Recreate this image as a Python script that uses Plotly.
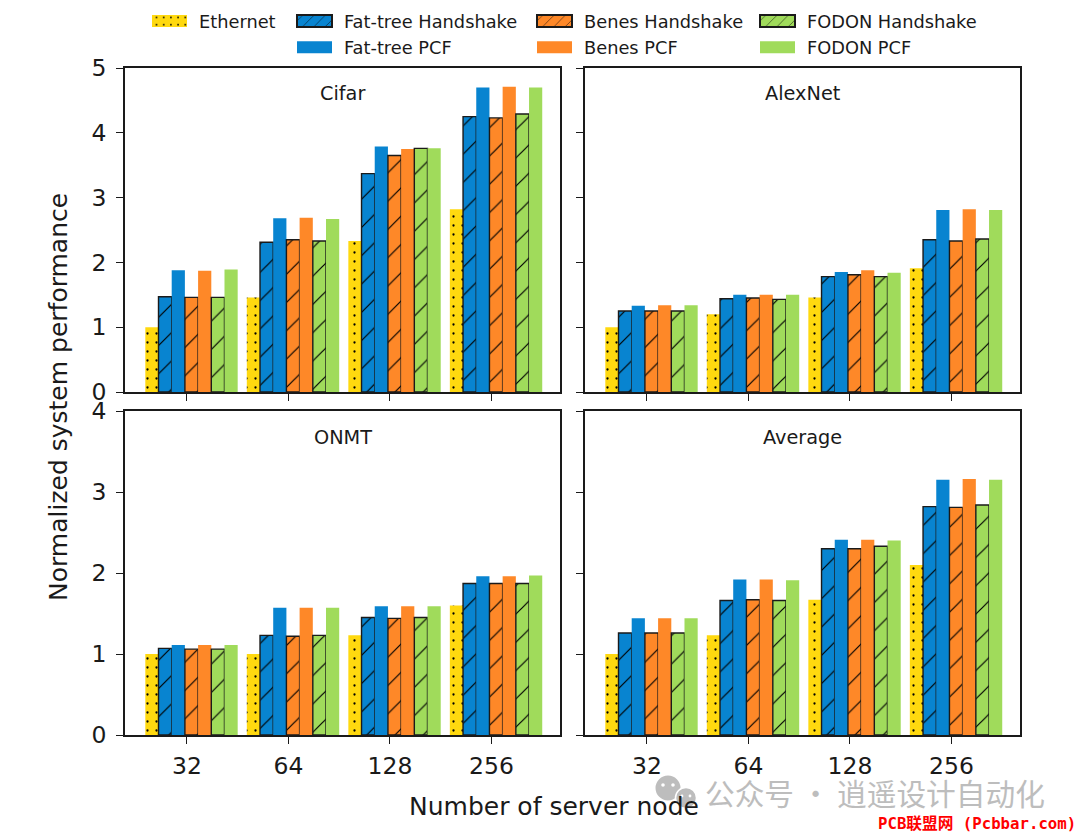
import plotly.graph_objects as go

W, H = 1080, 837
groups = [0, 1, 2, 3]
group_labels = ["32", "64", "128", "256"]
series_names = ["Ethernet", "Fat-tree Handshake", "Fat-tree PCF", "Benes Handshake", "Benes PCF", "FODON Handshake", "FODON PCF"]
series_colors = ["#FFD90F", "#0884D0", "#0884D0", "#FE8828", "#FE8828", "#A0DB5B", "#A0DB5B"]
panel_names = ["Cifar", "AlexNet", "ONMT", "Average"]

cifar = [
    [1.00, 1.46, 2.33, 2.82], [1.47, 2.31, 3.37, 4.25], [1.88, 2.68, 3.79, 4.70],
    [1.46, 2.35, 3.65, 4.23], [1.87, 2.69, 3.75, 4.71], [1.46, 2.33, 3.76, 4.29], [1.89, 2.67, 3.76, 4.70],
]
alexnet = [
    [1.00, 1.20, 1.46, 1.91], [1.25, 1.44, 1.78, 2.35], [1.33, 1.50, 1.85, 2.81],
    [1.25, 1.45, 1.81, 2.33], [1.34, 1.50, 1.88, 2.82], [1.25, 1.43, 1.78, 2.36], [1.34, 1.50, 1.84, 2.81],
]
onmt = [
    [1.00, 1.00, 1.23, 1.60], [1.07, 1.23, 1.45, 1.87], [1.11, 1.57, 1.59, 1.96],
    [1.06, 1.22, 1.44, 1.87], [1.11, 1.57, 1.59, 1.96], [1.06, 1.23, 1.45, 1.87], [1.11, 1.57, 1.59, 1.97],
]
average = [
    [1.00, 1.23, 1.67, 2.10], [1.26, 1.66, 2.30, 2.82], [1.44, 1.92, 2.41, 3.15],
    [1.26, 1.67, 2.30, 2.81], [1.44, 1.92, 2.41, 3.16], [1.26, 1.66, 2.33, 2.84], [1.44, 1.91, 2.40, 3.15],
]
panels = [cifar, alexnet, onmt, average]

FONT = "DejaVu Sans"
INK = "#1a1a1a"
BAR_W = 0.13
START = -0.41
boxes = [(125, 560, 68, 392), (585, 1020, 68, 392), (125, 560, 411, 735), (585, 1020, 411, 735)]
ymax = [5, 5, 4, 4]
legend_of = {0: "legend", 1: "legend2", 2: "legend2", 3: "legend3", 4: "legend3", 5: "legend4", 6: "legend4"}

fig = go.Figure()
for p, data in enumerate(panels):
    suffix = "" if p == 0 else str(p + 1)
    for s, vals in enumerate(data):
        hs = "Handshake" in series_names[s]
        eth = s == 0
        fig.add_trace(go.Bar(
            x=groups, y=vals, name=series_names[s], width=BAR_W, offset=START + BAR_W * s,
            xaxis="x" + suffix, yaxis="y" + suffix, legend=legend_of[s], showlegend=p == 0,
            marker=dict(
                color=series_colors[s],
                line=dict(color=INK if hs else series_colors[s], width=1.4 if hs else 0),
                pattern=dict(shape="/" if hs else ("." if eth else ""), fgcolor="#000000", fgopacity=1,
                             bgcolor=series_colors[s], size=20 if hs else 9,
                             solidity=0.06 if hs else 0.05, fillmode="overlay"),
            ),
        ))

layout = dict(
    width=W, height=H, margin=dict(l=0, r=0, t=0, b=0, autoexpand=False), autosize=False,
    paper_bgcolor="white", plot_bgcolor="white", barmode="overlay",
    font=dict(family=FONT, color=INK),
)
for p, (x0, x1, y0, y1) in enumerate(boxes):
    suffix = "" if p == 0 else str(p + 1)
    axis_common = dict(showline=True, mirror=True, linecolor=INK, linewidth=1.8, showgrid=False, zeroline=False,
                       ticks="outside", ticklen=7, tickwidth=1.4, tickcolor=INK, tickfont=dict(size=23.5, family=FONT, color=INK))
    layout["xaxis" + suffix] = dict(axis_common, domain=[x0 / W, x1 / W], anchor="y" + suffix,
                                    range=[-0.61, 3.675], tickmode="array", tickvals=groups, ticktext=group_labels,
                                    showticklabels=p >= 2, ticklabelstandoff=2)
    layout["yaxis" + suffix] = dict(axis_common, domain=[1 - y1 / H, 1 - y0 / H], anchor="x" + suffix,
                                    range=[0, ymax[p]], tickmode="array", tickvals=list(range(ymax[p] + 1)),
                                    showticklabels=p in (0, 2), ticklabelstandoff=5)

legend_common = dict(orientation="v", xanchor="left", yanchor="top",
                     y=1 - 3 / H, bgcolor="rgba(0,0,0,0)", itemwidth=39,
                     font=dict(size=17.8, family=FONT, color=INK), tracegroupgap=0, itemsizing="constant")
for name, xp in zip(["legend", "legend2", "legend3", "legend4"], [150, 295, 535, 758]):
    layout[name] = dict(legend_common, x=xp / W)

annotations = []
for p, name in enumerate(panel_names):
    x0, x1, y0, y1 = boxes[p]
    annotations.append(dict(text=name, xref="paper", yref="paper", x=(x0 + x1) / 2 / W, y=1 - (y0 + (25 if p < 2 else 26.5)) / H,
                            showarrow=False, font=dict(size=19.3, family=FONT, color=INK), xanchor="center", yanchor="middle"))
annotations.append(dict(text="Normalized system performance", xref="paper", yref="paper", x=58 / W, y=1 - 397 / H,
                        textangle=-90, showarrow=False, xanchor="center", yanchor="middle", font=dict(size=25, family=FONT, color=INK)))
annotations.append(dict(text="Number of server node", xref="paper", yref="paper", x=554 / W, y=1 - 806 / H,
                        showarrow=False, xanchor="center", yanchor="middle", font=dict(size=25, family=FONT, color=INK)))
annotations.append(dict(text="公众号 · 逍遥设计自动化", xref="paper", yref="paper", x=875 / W, y=1 - 792.5 / H,
                        showarrow=False, xanchor="center", yanchor="middle", font=dict(size=29.7, family="Noto Sans CJK SC", color="#bdbdbd")))
annotations.append(dict(text="<b>PCB联盟网 (Pcbbar.com)</b>", xref="paper", yref="paper", x=977 / W, y=1 - 823 / H,
                        showarrow=False, xanchor="center", yanchor="middle", font=dict(size=15.7, family="DejaVu Sans Mono, Noto Sans CJK SC", color="#ff0000")))
layout["annotations"] = annotations

def bubble(cx, cy, r, fill, line="rgba(0,0,0,0)", lw=0):
    return dict(type="circle", xref="paper", yref="paper", x0=(cx - r) / W, x1=(cx + r) / W,
                y0=1 - (cy + r) / H, y1=1 - (cy - r) / H, fillcolor=fill, line=dict(color=line, width=lw))

layout["shapes"] = [
    bubble(668, 788, 12.5, "#bdbdbd"), bubble(663, 785, 1.8, "white"), bubble(673, 785, 1.8, "white"),
    bubble(686, 798, 10.5, "#bdbdbd", "white", 1.5), bubble(682, 796, 1.4, "white"), bubble(690, 796, 1.4, "white"),
]
fig.update_layout(**layout)
post = """
document.body.style.margin='0';
document.querySelectorAll('.legendpoints path').forEach(function(p){
  p.setAttribute('d','M12.5,6H-22.5V-6H12.5Z');
});
"""
fig.write_html("out.html", post_script=post, config={"displayModeBar": False})
